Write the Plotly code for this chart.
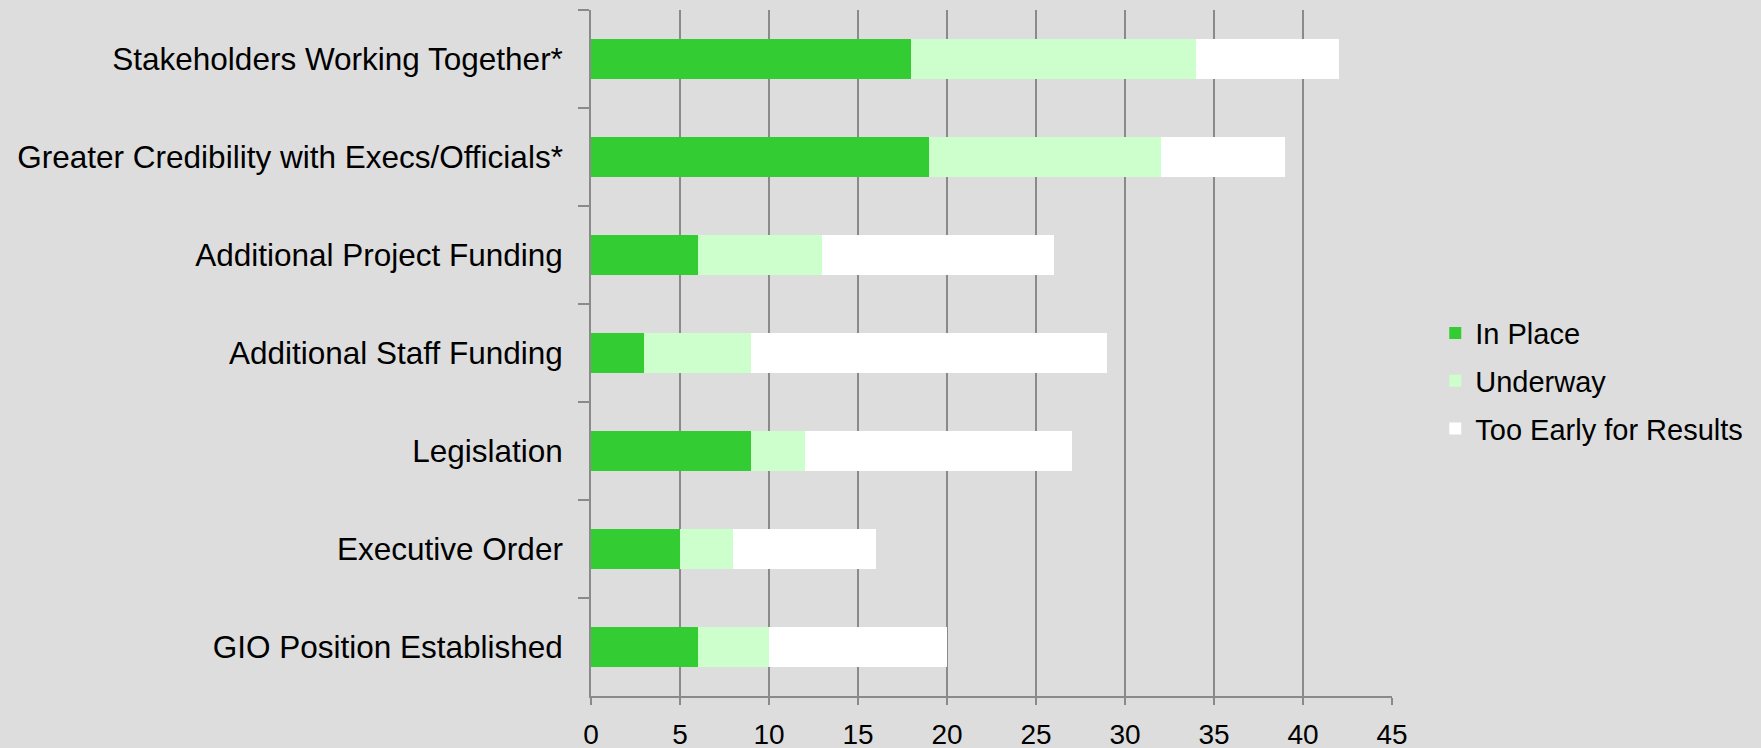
import plotly.graph_objects as go

categories = [
    "Stakeholders Working Together*",
    "Greater Credibility with Execs/Officials*",
    "Additional Project Funding",
    "Additional Staff Funding",
    "Legislation",
    "Executive Order",
    "GIO Position Established",
]
in_place = [18, 19, 6, 3, 9, 5, 6]
underway = [16, 13, 7, 6, 3, 3, 4]
too_early = [8, 7, 13, 20, 15, 8, 10]

series_names = ["In Place", "Underway", "Too Early for Results"]
series_colors = ["#33CC33", "#CCFFCC", "#FFFFFF"]
series_values = [in_place, underway, too_early]

x_ticks = [0, 5, 10, 15, 20, 25, 30, 35, 40, 45]

BG = "#DDDDDD"
GRID = "#8A8A8A"
FONT = "Liberation Sans, Arial, sans-serif"

fig = go.Figure()
for name, color, vals in zip(series_names, series_colors, series_values):
    fig.add_trace(go.Bar(
        y=categories, x=vals, name=name, orientation="h",
        marker=dict(color=color, line=dict(width=0)),
        legendgroup=name,
    ))

fig.update_layout(
    width=1761, height=748,
    barmode="stack", bargap=0.6,
    paper_bgcolor=BG, plot_bgcolor=BG,
    font=dict(family=FONT, color="#000000"),
    margin=dict(l=591, r=369, t=10, b=52, pad=0, autoexpand=False),
    showlegend=True,
    legend=dict(
        x=1.054, xanchor="left", y=0.459, yanchor="middle",
        font=dict(size=29, family=FONT, color="#000000"),
        bgcolor="rgba(0,0,0,0)", traceorder="grouped", tracegroupgap=7,
    ),
    xaxis=dict(
        range=[0, 45], tickvals=x_ticks, ticktext=[str(v) for v in x_ticks],
        showgrid=True, gridcolor=GRID, gridwidth=1.6,
        showline=True, linecolor=GRID, linewidth=1.6,
        ticks="outside", ticklen=7, tickwidth=1.6, tickcolor=GRID,
        tickfont=dict(size=28, family=FONT, color="#000000"),
        ticklabelstandoff=6, zeroline=False, fixedrange=True, automargin=False,
    ),
    yaxis=dict(
        autorange="reversed", type="category",
        showgrid=False, showline=True, linecolor=GRID, linewidth=1.6,
        ticks="outside", tickson="boundaries", ticklen=11, tickwidth=1.6, tickcolor=GRID,
        tickfont=dict(size=31.5, family=FONT, color="#000000"),
        ticklabelstandoff=20, zeroline=False, fixedrange=True, automargin=False,
    ),
)

fig.write_html(
    "out.html",
    config={"displayModeBar": False},
    post_script="document.body.style.margin='0';document.body.style.overflow='hidden';document.body.style.background='#DDDDDD';",
)
